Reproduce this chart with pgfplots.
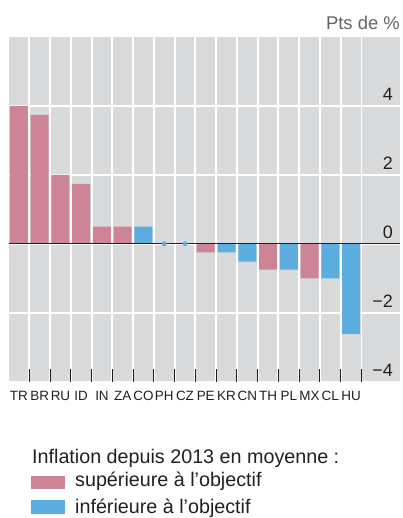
\documentclass[border=0pt]{standalone}
\usepackage{fontspec}
\setmainfont{Liberation Sans}
\usepackage{pgfplots}
\pgfplotsset{compat=1.18}
\definecolor{pinkbar}{RGB}{205,132,151}
\definecolor{bluebar}{RGB}{92,173,224}
\definecolor{bggray}{RGB}{217,218,220}
\definecolor{txt}{RGB}{35,31,32}
\definecolor{unitgray}{RGB}{100,100,102}
\begin{document}
\begin{tikzpicture}
\useasboundingbox (-9bp,-136.3bp) rectangle (394bp,381.7bp);
\begin{axis}[
  scale only axis, width=391bp, height=344.7bp,
  xmin=-0.48, xmax=18.36, ymin=-4, ymax=6,
  axis line style={draw=none},
  axis background/.style={fill=bggray},
  xtick={0,...,16},
  xticklabels={TR,BR,RU,ID,IN,ZA,CO,PH,CZ,PE,KR,CN,TH,PL,MX,CL,HU},
  minor xtick={0.5,1.5,...,16.5},
  xminorgrids, xmajorgrids=false,
  minor grid style={white, line width=1.8bp},
  ytick={-4,-2,0,2,4},
  yticklabels={−4,−2,0,2,4},
  ymajorgrids,
  major grid style={white, line width=1.8bp},
  major tick length=0pt,
  minor tick length=13bp,
  tick align=inside,
  xtick pos=left, ytick pos=right,
  yticklabel pos=right,
  minor tick style={txt, line width=1bp},
  xticklabel style={font=\fontsize{13.5}{14}\selectfont, text=txt, anchor=base, inner sep=0pt, yshift=-18.3bp},
  yticklabel style={font=\fontsize{18}{18}\selectfont, text=txt, anchor=base east, inner sep=0pt, xshift=-7bp, yshift=5.5bp},
  clip=false,
]
\addplot[ybar, bar width=18bp, bar shift=0pt, fill=pinkbar, draw=none]
  coordinates {(0,4.0)(1,3.74)(2,2.0)(3,1.74)(4,0.5)(5,0.5)(9,-0.25)(12,-0.75)(14,-1.0)};
\addplot[ybar, bar width=18bp, bar shift=0pt, fill=bluebar, draw=none]
  coordinates {(6,0.5)(10,-0.25)(11,-0.52)(13,-0.75)(15,-1.0)(16,-2.62)};
\addplot[txt, line width=1.2bp, forget plot] coordinates {(-0.48,0)(18.36,0)};
\addplot[only marks, mark=*, mark size=2.2bp, color=bluebar, forget plot] coordinates {(7,0)(8,0)};
\end{axis}
\node[anchor=base east, font=\fontsize{18.5}{19}\selectfont, text=unitgray, inner sep=0pt] at (391bp,351.7bp) {Pts de \%};
\node[anchor=base west, font=\fontsize{19.8}{20}\selectfont, text=txt, inner sep=0pt] at (23bp,-81.6bp) {Inflation depuis 2013 en moyenne :};
\fill[pinkbar] (22bp,-107.3bp) rectangle (56bp,-94bp);
\fill[bluebar] (22bp,-132.3bp) rectangle (56bp,-118.3bp);
\node[anchor=base west, font=\fontsize{19.8}{20}\selectfont, text=txt, inner sep=0pt] at (66bp,-105bp) {supérieure à l’objectif};
\node[anchor=base west, font=\fontsize{19.8}{20}\selectfont, text=txt, inner sep=0pt] at (66bp,-131.6bp) {inférieure à l’objectif};
\end{tikzpicture}
\end{document}
